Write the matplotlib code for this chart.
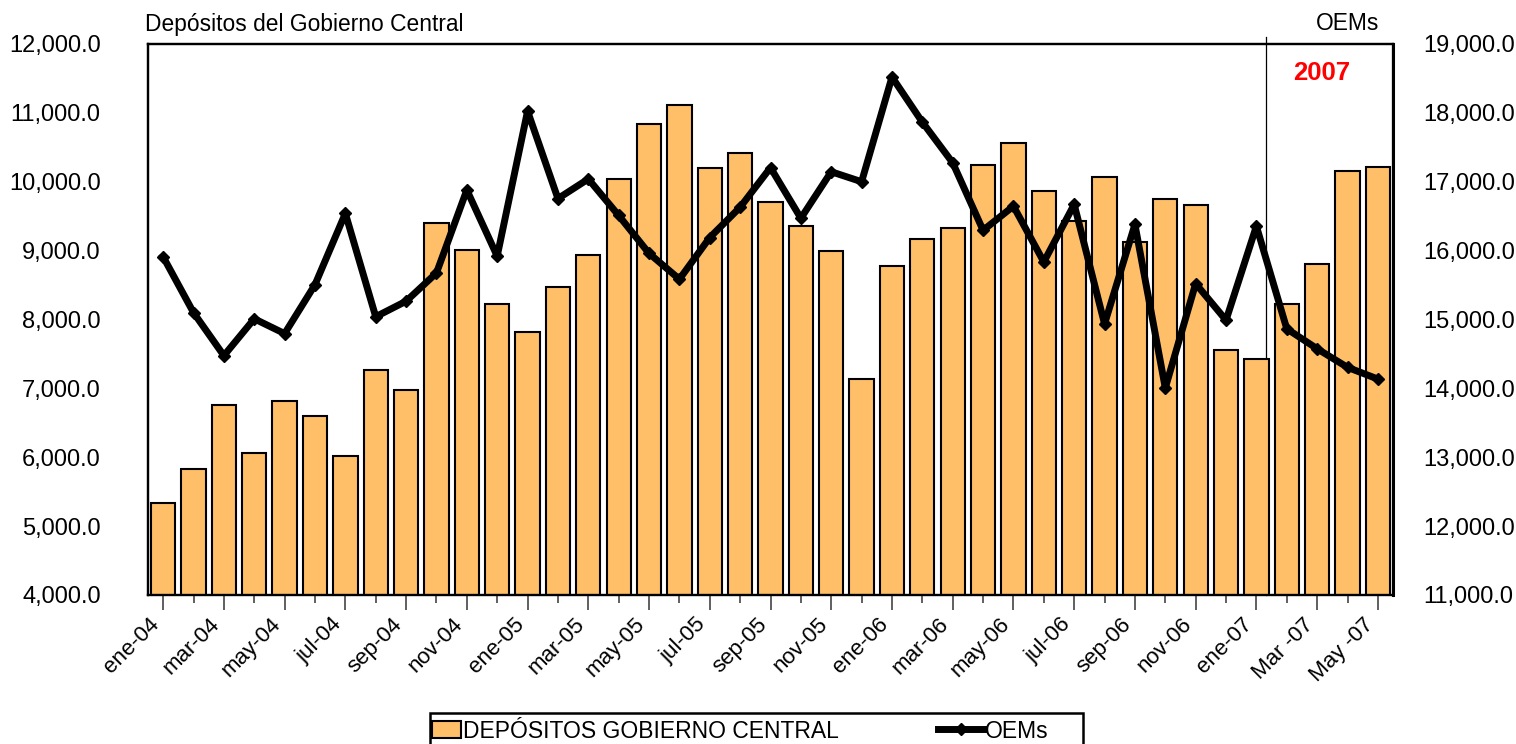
"""
Depósitos del Gobierno Central vs OEMs, ene-04 a may-07
"""

import matplotlib
matplotlib.use("Agg")
import matplotlib.pyplot as plt
from matplotlib.lines import Line2D
from matplotlib.patches import Patch, Rectangle
from matplotlib.transforms import ScaledTranslation

plt.rcParams['font.family'] = ['Liberation Sans', 'DejaVu Sans']

# Data, monthly ene-04 .. may-07
depositos = [5330, 5825, 6755, 6060, 6810, 6605, 6025, 7265, 6980, 9395, 9010, 8230,
             7825, 8465, 8940, 10035, 10845, 11120, 10195, 10410, 9700, 9350, 8990, 7135,
             8775, 9175, 9325, 10245, 10565, 9870, 9430, 10075, 9125, 9755, 9665, 7555,
             7420, 8220, 8800, 10155, 10210]
oems = [15910, 15100, 14475, 15010, 14795, 15505, 16540, 15040, 15265, 15675, 16880, 15920,
        18025, 16755, 17040, 16510, 15960, 15585, 16190, 16630, 17205, 16470, 17145, 17000,
        18520, 17865, 17275, 16295, 16645, 15835, 16670, 14935, 16380, 14005, 15520, 14990,
        16355, 14865, 14575, 14305, 14135]
tick_labels = ["ene-04", "mar-04", "may-04", "jul-04", "sep-04", "nov-04",
               "ene-05", "mar-05", "may-05", "jul-05", "sep-05", "nov-05",
               "ene-06", "mar-06", "may-06", "jul-06", "sep-06", "nov-06",
               "ene-07", "Mar -07", "May -07"]
left_ticks = [4000, 5000, 6000, 7000, 8000, 9000, 10000, 11000, 12000]
right_ticks = [11000, 12000, 13000, 14000, 15000, 16000, 17000, 18000, 19000]
year_split = 36.3   # between dic-06 and ene-07

bar_color = "#FFBF69"
fs = 16

fig = plt.figure(figsize=(15.16, 7.44), dpi=100)
ax = fig.add_axes([0.0976, 0.2003, 0.8213, 0.7406])
ax2 = ax.twinx()

x = list(range(len(depositos)))
ax.bar(x, depositos, width=0.8, color=bar_color, edgecolor="black", linewidth=1.5, zorder=2)
ax2.plot(x, oems, color="black", lw=5, marker="D", ms=6, zorder=3)

ax.set_xlim(-0.5, len(x) - 0.5)
ax.set_ylim(4000, 12000)
ax2.set_ylim(11000, 19000)

# y axes
ax.set_yticks(left_ticks, [f"{v:,.1f}" for v in left_ticks])
ax2.set_yticks(right_ticks, [f"{v:,.1f}" for v in right_ticks])
ax.tick_params(axis="y", length=0, pad=34, labelsize=17)
ax2.tick_params(axis="y", length=0, pad=22, labelsize=17)

# x axis: long ticks on labelled months, short ticks in between
ax.set_xticks(x[::2], tick_labels)
ax.set_xticks(x[1::2], minor=True)
ax.tick_params(axis="x", which="major", length=11, width=1.2, color="#444444", labelsize=fs, pad=4)
ax.tick_params(axis="x", which="minor", length=5.5, width=1.2, color="#444444")
for lab in ax.get_xticklabels():
    lab.set_rotation(45)
    lab.set_ha("right")
    lab.set_va("center")
    lab.set_rotation_mode("anchor")
    lab.set_transform(lab.get_transform() + ScaledTranslation(-5 / 72, -4 / 72, fig.dpi_scale_trans))

for a in (ax, ax2):
    for s in a.spines.values():
        s.set_linewidth(1.6)
        s.set_color("black")
ax2.spines["right"].set_linewidth(2.2)
ax.spines["bottom"].set_color("#444444")

# 2007 marker
ax.axvline(year_split, ymin=0, ymax=1.012, color="black", lw=0.9, clip_on=False, zorder=1)
ax.text(0.943, 0.947, "2007", transform=ax.transAxes, color="red", fontsize=18.5,
        fontweight="bold", ha="center", va="center")

fig.text(145 / 1516, 1 - 31 / 744, "Depósitos del Gobierno Central", fontsize=16.4, va="baseline")
fig.text(1379 / 1516, 1 - 30 / 744, "OEMs", fontsize=16.4, ha="right", va="baseline")

# legend: box runs off the bottom edge as in the original
fig.patches.append(Rectangle((430 / 1516, -0.02), 653 / 1516, 1 - 713 / 744 + 0.02,
                             transform=fig.transFigure, facecolor="white",
                             edgecolor="black", linewidth=1.8))
fig.legend([Patch(facecolor=bar_color, edgecolor="black", linewidth=1.5)],
           ["DEPÓSITOS GOBIERNO CENTRAL"], loc="center left",
           bbox_to_anchor=(432 / 1516, 1 - 731 / 744), bbox_transform=fig.transFigure,
           fontsize=16.5, frameon=False, borderaxespad=0, borderpad=0,
           handlelength=1.25, handleheight=0.8, handletextpad=0.1)
fig.legend([Line2D([], [], color="black", lw=5, marker="D", ms=6)],
           ["OEMs"], loc="center left",
           bbox_to_anchor=(938 / 1516, 1 - 731 / 744), bbox_transform=fig.transFigure,
           fontsize=16.5, frameon=False, borderaxespad=0, borderpad=0,
           handlelength=2.0, handletextpad=0.05)

fig.savefig("out.png", dpi=100)
